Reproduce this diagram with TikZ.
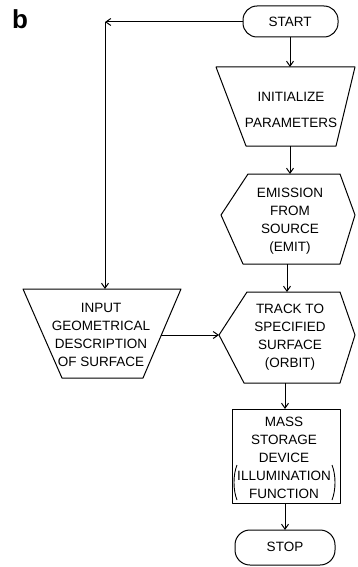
\documentclass[tikz,border=0pt]{standalone}
\usepackage{fontspec}
\setmainfont{Liberation Sans}
\usetikzlibrary{arrows.meta}
\begin{document}
\begin{tikzpicture}[x=1pt,y=-1pt, line width=1pt,
  shp/.style={draw, line join=round},
  lbl/.style={align=center, font=\fontsize{13.5}{18}\selectfont, inner sep=0pt},
  arr/.style={-{Straight Barb[length=5pt,width=7pt]}}]
\useasboundingbox (0,0) rectangle (357,567);
% label b
\node[font=\fontsize{26}{26}\selectfont\bfseries] (b) at (20,19) {b};
% START
\draw[shp, rounded corners=14pt] (243,6) rectangle (338,37);
\node[lbl] (start) at (290,22) {START};
\coordinate (start-w) at (243,22);
\coordinate (start-s) at (290,37);
% INITIALIZE
\draw[shp] (216,67) -- (355,67) -- (336,146) -- (246,146) -- cycle;
\node[lbl, font=\fontsize{13.5}{26}\selectfont] (init) at (291,110) {INITIALIZE\\PARAMETERS};
\coordinate (init-n) at (290,67);
\coordinate (init-s) at (290,146);
% EMIT
\draw[shp] (248,174) -- (340,174) -- (355,215) -- (340,264) -- (243,264) -- (221,215) -- cycle;
\node[lbl] (emit) at (290,221) {EMISSION\\FROM\\SOURCE\\(EMIT)};
\coordinate (emit-n) at (290,174);
\coordinate (emit-s) at (287,264);
% TRACK
\draw[shp] (247,292) -- (340,292) -- (355,335) -- (340,383) -- (244,383) -- (219,335) -- cycle;
\node[lbl] (track) at (290,337) {TRACK TO\\SPECIFIED\\SURFACE\\(ORBIT)};
\coordinate (track-n) at (287,292);
\coordinate (track-w) at (219,335);
\coordinate (track-s) at (285,383);
% INPUT
\draw[shp] (23,289) -- (181,289) -- (143,378) -- (62,378) -- cycle;
\node[lbl] (input) at (101,335) {INPUT\\GEOMETRICAL\\DESCRIPTION\\OF SURFACE};
\coordinate (input-n) at (105,289);
\coordinate (input-e) at (161,335);
\coordinate (corner) at (105,22);
% MASS STORAGE
\draw[shp] (232,409) rectangle (340,503);
\node[lbl] (mass) at (284,458) {MASS\\STORAGE\\DEVICE\\ILLUMINATION\\FUNCTION};
\draw[line width=0.9pt] (237,465) .. controls (233,475) and (233,490) .. (237,500);
\draw[line width=0.9pt] (332,465) .. controls (336,475) and (336,490) .. (332,500);
\coordinate (mass-n) at (285,409);
\coordinate (mass-s) at (285,503);
% STOP
\draw[shp, rounded corners=15pt] (235,530) rectangle (335,565);
\node[lbl] (stop) at (285,547) {STOP};
\coordinate (stop-n) at (285,530);
% connectors
\draw[arr] (start-w) -- (corner);
\draw[arr] (corner) -- (input-n);
\draw[arr] (start-s) -- (init-n);
\draw[arr] (init-s) -- (emit-n);
\draw[arr] (emit-s) -- (track-n);
\draw[arr] (input-e) -- (track-w);
\draw[arr] (track-s) -- (mass-n);
\draw[arr] (mass-s) -- (stop-n);
\end{tikzpicture}
\end{document}
